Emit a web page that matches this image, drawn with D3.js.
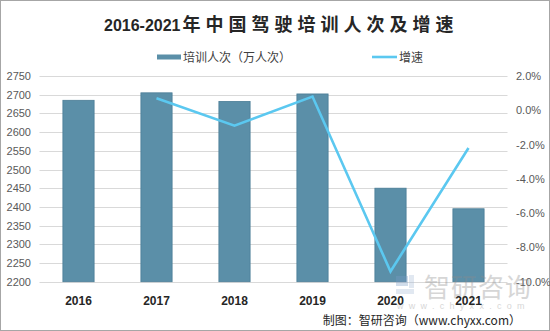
<!DOCTYPE html>
<html>
<head>
<meta charset="utf-8">
<script src="https://cdn.jsdelivr.net/npm/d3@7/dist/d3.min.js"></script>
<style>
  html, body { margin: 0; padding: 0; background: #fff; }
  svg { display: block; }
</style>
</head>
<body>
<svg id="chart" width="550" height="331"></svg>
<script>
// Driver training volume (10k person-times) and year-on-year growth (%)
const years = ["2016", "2017", "2018", "2019", "2020", "2021"];
const trainees = [2685, 2705, 2682, 2702, 2450, 2395];
const growthYears = ["2017", "2018", "2019", "2020", "2021"];
const growth = [0.7, -0.9, 0.8, -9.4, -2.2];
const leftTicks = d3.range(2200, 2751, 50);
const rightTicks = [2, 0, -2, -4, -6, -8, -10];

const svg = d3.select("#chart");
const W = 550, H = 331;
const plot = { left: 39.5, right: 507.5, top: 76, bottom: 281.7 };
const cjk = "'Noto Sans CJK SC', 'Noto Sans', sans-serif";
const sans = "'Liberation Sans', Arial, sans-serif";

// outer frame
svg.append("rect").attr("x", 0.5).attr("y", 0.5).attr("width", W - 1).attr("height", H - 1)
  .attr("fill", "#fff").attr("stroke", "#a6a6a6");

const x = d3.scaleBand().domain(years).range([plot.left, plot.right])
  .paddingInner(0.6).paddingOuter(0.3);
const y = d3.scaleLinear().domain([2200, 2750]).range([plot.bottom, plot.top]);
const y2 = d3.scaleLinear().domain([-10, 2]).range([plot.bottom, plot.top]);

// gridlines
svg.append("g").selectAll("line").data(leftTicks).join("line")
  .attr("x1", plot.left).attr("x2", plot.right)
  .attr("y1", d => Math.round(y(d)) + 0.5).attr("y2", d => Math.round(y(d)) + 0.5)
  .attr("stroke", "#d9d9d9").attr("stroke-width", 1);

// left axis
const leftAxis = svg.append("g").attr("transform", "translate(31,0)")
  .call(d3.axisLeft(y).tickValues(leftTicks).tickSize(0).tickPadding(0).tickFormat(d3.format("d")));
leftAxis.select(".domain").remove();
leftAxis.selectAll("text").attr("fill", "#595959").style("font-family", sans).style("font-size", "11px");

// right axis
const rightAxis = svg.append("g").attr("transform", "translate(516,0)")
  .call(d3.axisRight(y2).tickValues(rightTicks).tickSize(0).tickPadding(0)
    .tickFormat(d => d.toFixed(1) + "%"));
rightAxis.select(".domain").remove();
rightAxis.selectAll("text").attr("fill", "#595959").style("font-family", sans).style("font-size", "11px");

// bars
svg.append("g").selectAll("rect").data(years).join("rect")
  .attr("x", d => x(d)).attr("width", x.bandwidth())
  .attr("y", (d, i) => y(trainees[i]))
  .attr("height", (d, i) => y(2200) - y(trainees[i]))
  .attr("fill", "#5b8fa8").attr("stroke", "#4a7d96").attr("stroke-width", 0.8);

// watermark
const wm = svg.append("g").attr("opacity", 0.35);
wm.append("rect").attr("x", 396).attr("y", 276).attr("width", 12).attr("height", 10).attr("fill", "#7a9cc6");
wm.append("rect").attr("x", 396).attr("y", 289).attr("width", 18).attr("height", 5).attr("fill", "#aabfd9");
wm.append("rect").attr("x", 409).attr("y", 275).attr("width", 5).attr("height", 13).attr("fill", "#aabfd9");
wm.append("text").attr("x", 424).attr("y", 297).attr("fill", "#8c8c8c")
  .attr("letter-spacing", "1px")
  .style("font-family", cjk).style("font-size", "26px").text("智研咨询");
wm.append("text").attr("x", 397).attr("y", 309).attr("fill", "#8c8c8c")
  .style("font-family", sans).style("font-size", "9px").attr("letter-spacing", "5.3px")
  .text("www.chyxx.com");

// category labels
svg.append("g").selectAll("text").data(years).join("text")
  .attr("x", d => x(d) + x.bandwidth() / 2).attr("y", 305)
  .attr("text-anchor", "middle").attr("fill", "#262626")
  .style("font-family", sans).style("font-size", "12px").style("font-weight", "bold")
  .text(d => d);

// growth line
const line = d3.line().x((d, i) => x(growthYears[i]) + x.bandwidth() / 2).y(d => y2(d));
svg.append("path").datum(growth).attr("d", line)
  .attr("fill", "none").attr("stroke", "#5bc8f0").attr("stroke-width", 2.6)
  .attr("stroke-linejoin", "miter");

// title
const title = svg.append("text").attr("x", 104).attr("y", 31).attr("fill", "#262626")
  .style("font-weight", "bold");
title.append("tspan").style("font-family", sans).style("font-size", "16px").text("2016-2021");
title.append("tspan").attr("dx", 2).style("font-family", cjk).style("font-size", "18px")
  .attr("letter-spacing", "5px").text("年中国驾驶培训人次及增速");

// legend
const lg = svg.append("g");
lg.append("rect").attr("x", 157).attr("y", 54.5).attr("width", 24).attr("height", 5).attr("fill", "#5b8fa8");
lg.append("text").attr("x", 183).attr("y", 61.5).attr("fill", "#404040")
  .style("font-family", cjk).style("font-size", "12px").text("培训人次（万人次）");
lg.append("line").attr("x1", 372).attr("x2", 397).attr("y1", 57).attr("y2", 57)
  .attr("stroke", "#5bc8f0").attr("stroke-width", 2.6);
lg.append("text").attr("x", 399).attr("y", 61.5).attr("fill", "#404040")
  .style("font-family", cjk).style("font-size", "12px").text("增速");

// source note
svg.append("text").attr("x", 521).attr("y", 325).attr("text-anchor", "end").attr("fill", "#262626")
  .style("font-family", cjk).style("font-size", "12px").text("制图：智研咨询（www.chyxx.com）");
</script>
</body>
</html>
